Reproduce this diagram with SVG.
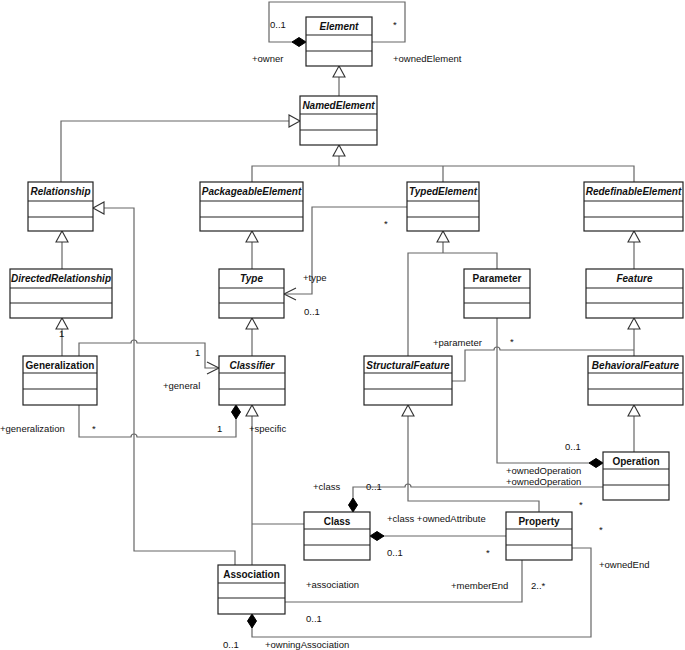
<svg xmlns="http://www.w3.org/2000/svg" width="685" height="650" viewBox="0 0 685 650">
<style>
.box rect{fill:#fff;stroke:#222;stroke-width:1.2}
.box line{stroke:#222;stroke-width:1.2}
.box text{font-family:"Liberation Sans",Arial,sans-serif;font-size:10px;font-weight:bold;text-anchor:middle;fill:#111}
.box text.abs{font-style:italic}
.conn path{fill:none;stroke:#666;stroke-width:1.2}
.gen{marker-end:url(#gen)}
.comp{marker-end:url(#comp)}
.nav{marker-end:url(#open)}
.lbl text{font-family:"Liberation Sans",Arial,sans-serif;font-size:9.5px;fill:#111}
</style>
<defs>
<marker id="gen" markerUnits="userSpaceOnUse" orient="auto" refX="0" refY="0" markerWidth="14" markerHeight="14" overflow="visible"><path d="M0,0 L-11,-6 L-11,6 z" fill="#fff" stroke="#333" stroke-width="1.1"/></marker>
<marker id="comp" markerUnits="userSpaceOnUse" orient="auto" refX="0" refY="0" markerWidth="16" markerHeight="10" overflow="visible"><path d="M0,0 L-7,-4.5 L-14,0 L-7,4.5 z" fill="#000" stroke="#000" stroke-width="1"/></marker>
<marker id="open" markerUnits="userSpaceOnUse" orient="auto" refX="0" refY="0" markerWidth="14" markerHeight="14" overflow="visible"><path d="M-12,-6 L0,0 L-12,6" fill="none" stroke="#333" stroke-width="1.1"/></marker>
</defs>
<rect width="685" height="650" fill="#fff"/>
<g class="conn">
<path class="comp" d="M372,42 H405 V2 H269 V42 H306"/>
<path class="gen" d="M339,96 V66"/>
<path class="gen" d="M61,182 V121 H300"/>
<path class="gen" d="M339,166 V145"/>
<path d="M252,182 V166 H634 V182 M443,166 V182"/>
<path class="gen" d="M62,269 V231"/>
<path class="gen" d="M235,565 V551 H134 V208 H93"/>
<path class="gen" d="M252,269 V231"/>
<path class="nav" d="M407,207 H312 V294 H284"/>
<path class="gen" d="M443,253 V231"/>
<path d="M408,356 V253 H497 V269"/>
<path class="gen" d="M634,269 V231"/>
<path class="gen" d="M62,356 V318"/>
<path class="nav" d="M79,356 V343 H131 a3,3 0 0 1 6,0 H205 V368 H219"/>
<path class="comp" d="M79,405 V437 H131 a3,3 0 0 1 6,0 H236 V405"/>
<path class="gen" d="M252,356 V318"/>
<path class="gen" d="M252,565 V405"/>
<path d="M252,524 H304"/>
<path class="gen" d="M539,512 V501 H408 V405"/>
<path class="gen" d="M634,356 V318"/>
<path d="M452,381 H465 V350 H494 a3,3 0 0 1 6,0 H634"/>
<path class="comp" d="M497,318 V463 H603"/>
<path class="gen" d="M634,452 V405"/>
<path class="comp" d="M603,487 H411 a3,3 0 0 0 -6,0 H353 V512"/>
<path class="comp" d="M506,536 H370"/>
<path d="M285,602 H522 V560"/>
<path class="comp" d="M572,548 H591 V637 H252 V614"/>
</g>
<g id="Element" class="box"><rect x="306" y="17" width="66" height="49"/><line x1="306" y1="35" x2="372" y2="35"/><line x1="306" y1="51" x2="372" y2="51"/><text class="abs" x="339" y="30">Element</text></g>
<g id="NamedElement" class="box"><rect x="300" y="96" width="77" height="49"/><line x1="300" y1="114" x2="377" y2="114"/><line x1="300" y1="130" x2="377" y2="130"/><text class="abs" x="338.5" y="109">NamedElement</text></g>
<g id="Relationship" class="box"><rect x="28" y="182" width="65" height="49"/><line x1="28" y1="201" x2="93" y2="201"/><line x1="28" y1="217" x2="93" y2="217"/><text class="abs" x="60.5" y="195">Relationship</text></g>
<g id="PackageableElement" class="box"><rect x="200" y="182" width="103" height="49"/><line x1="200" y1="201" x2="303" y2="201"/><line x1="200" y1="217" x2="303" y2="217"/><text class="abs" x="251.5" y="195">PackageableElement</text></g>
<g id="TypedElement" class="box"><rect x="407" y="182" width="72" height="49"/><line x1="407" y1="201" x2="479" y2="201"/><line x1="407" y1="217" x2="479" y2="217"/><text class="abs" x="443" y="195">TypedElement</text></g>
<g id="RedefinableElement" class="box"><rect x="584" y="182" width="99" height="49"/><line x1="584" y1="201" x2="683" y2="201"/><line x1="584" y1="217" x2="683" y2="217"/><text class="abs" x="633.5" y="195">RedefinableElement</text></g>
<g id="DirectedRelationship" class="box"><rect x="10" y="269" width="102" height="49"/><line x1="10" y1="288" x2="112" y2="288"/><line x1="10" y1="303" x2="112" y2="303"/><text class="abs" x="61" y="282">DirectedRelationship</text></g>
<g id="Type" class="box"><rect x="219" y="269" width="65" height="49"/><line x1="219" y1="288" x2="284" y2="288"/><line x1="219" y1="303" x2="284" y2="303"/><text class="abs" x="251.5" y="282">Type</text></g>
<g id="Parameter" class="box"><rect x="464" y="269" width="66" height="49"/><line x1="464" y1="288" x2="530" y2="288"/><line x1="464" y1="303" x2="530" y2="303"/><text x="497" y="282">Parameter</text></g>
<g id="Feature" class="box"><rect x="586" y="269" width="97" height="49"/><line x1="586" y1="288" x2="683" y2="288"/><line x1="586" y1="303" x2="683" y2="303"/><text class="abs" x="634.5" y="282">Feature</text></g>
<g id="Generalization" class="box"><rect x="23" y="356" width="74" height="49"/><line x1="23" y1="373" x2="97" y2="373"/><line x1="23" y1="389" x2="97" y2="389"/><text x="60" y="369">Generalization</text></g>
<g id="Classifier" class="box"><rect x="219" y="356" width="66" height="49"/><line x1="219" y1="373" x2="285" y2="373"/><line x1="219" y1="389" x2="285" y2="389"/><text class="abs" x="252" y="369">Classifier</text></g>
<g id="StructuralFeature" class="box"><rect x="364" y="356" width="88" height="49"/><line x1="364" y1="373" x2="452" y2="373"/><line x1="364" y1="389" x2="452" y2="389"/><text class="abs" x="408" y="369">StructuralFeature</text></g>
<g id="BehavioralFeature" class="box"><rect x="588" y="356" width="95" height="49"/><line x1="588" y1="373" x2="683" y2="373"/><line x1="588" y1="389" x2="683" y2="389"/><text class="abs" x="635.5" y="369">BehavioralFeature</text></g>
<g id="Operation" class="box"><rect x="603" y="452" width="66" height="48"/><line x1="603" y1="469" x2="669" y2="469"/><line x1="603" y1="485" x2="669" y2="485"/><text x="636" y="465">Operation</text></g>
<g id="Class" class="box"><rect x="304" y="512" width="66" height="48"/><line x1="304" y1="529" x2="370" y2="529"/><line x1="304" y1="545" x2="370" y2="545"/><text x="337" y="525">Class</text></g>
<g id="Property" class="box"><rect x="506" y="512" width="66" height="48"/><line x1="506" y1="529" x2="572" y2="529"/><line x1="506" y1="545" x2="572" y2="545"/><text x="539" y="525">Property</text></g>
<g id="Association" class="box"><rect x="218" y="565" width="67" height="49"/><line x1="218" y1="583" x2="285" y2="583"/><line x1="218" y1="598" x2="285" y2="598"/><text x="251.5" y="578">Association</text></g>
<g class="lbl">
<text x="270" y="28">0..1</text>
<text x="393" y="28">*</text>
<text x="252" y="62">+owner</text>
<text x="393" y="62">+ownedElement</text>
<text x="303" y="281">+type</text>
<text x="304" y="315">0..1</text>
<text x="384" y="227">*</text>
<text x="59" y="337">1</text>
<text x="195" y="356">1</text>
<text x="163" y="389">+general</text>
<text x="0" y="432">+generalization</text>
<text x="92" y="432">*</text>
<text x="217" y="432">1</text>
<text x="249" y="432">+specific</text>
<text x="433" y="346">+parameter</text>
<text x="510" y="345">*</text>
<text x="565" y="450">0..1</text>
<text x="506" y="474">+ownedOperation</text>
<text x="506" y="485">+ownedOperation</text>
<text x="313" y="490">+class</text>
<text x="366" y="490">0..1</text>
<text x="387" y="522">+class +ownedAttribute</text>
<text x="387" y="556">0..1</text>
<text x="486" y="556">*</text>
<text x="306" y="588">+association</text>
<text x="306" y="622">0..1</text>
<text x="223" y="648">0..1</text>
<text x="265" y="648">+owningAssociation</text>
<text x="451" y="589">+memberEnd</text>
<text x="531" y="589">2..*</text>
<text x="599" y="568">+ownedEnd</text>
<text x="579" y="508">*</text>
<text x="599" y="533">*</text>
</g>
</svg>
